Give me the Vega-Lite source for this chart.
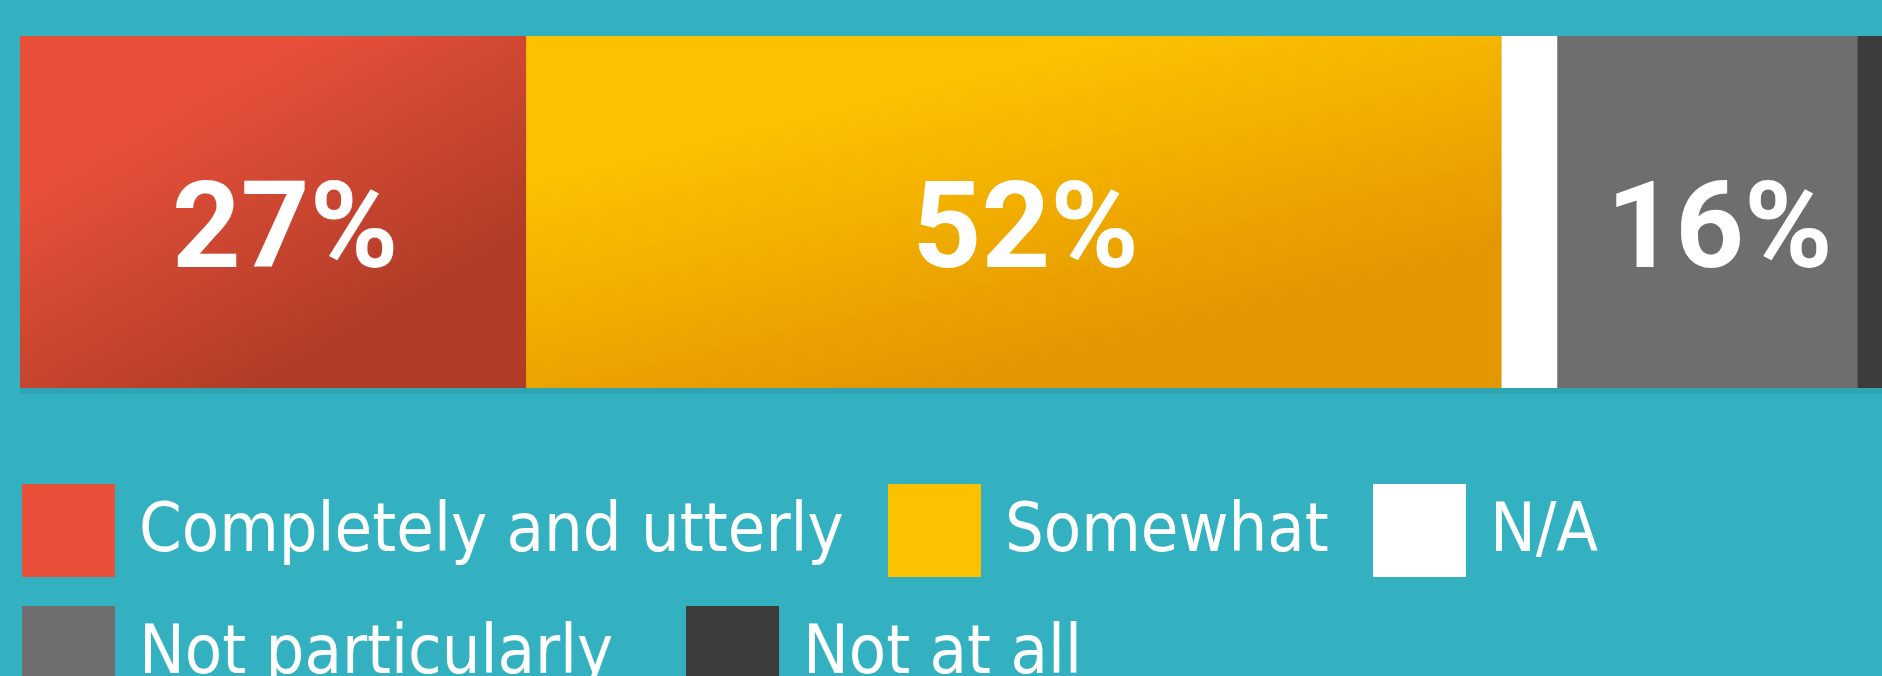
{
  "$schema": "https://vega.github.io/schema/vega-lite/v6.json",
  "width": 1882,
  "height": 676,
  "padding": 0,
  "autosize": {"type": "none"},
  "background": "#34B1C1",
  "config": {
    "view": {"stroke": null},
    "legend": {
      "title": null,
      "orient": "none",
      "direction": "horizontal",
      "symbolType": "square",
      "symbolSize": 8649,
      "symbolStrokeWidth": 0,
      "symbolOpacity": 1,
      "labelFont": "DejaVu Sans Condensed, Liberation Sans",
      "labelFontSize": 68,
      "labelColor": "#FFFFFF",
      "labelLimit": 0,
      "labelOffset": 24,
      "labelBaseline": "middle"
    }
  },
  "data": {
    "values": [
      {"question": "Q", "answer": "Completely and utterly", "pct": 27, "label": "27%", "rank": 1},
      {"question": "Q", "answer": "Somewhat", "pct": 52, "label": "52%", "rank": 2},
      {"question": "Q", "answer": "N/A", "pct": 3, "label": "", "rank": 3},
      {"question": "Q", "answer": "Not particularly", "pct": 16, "label": "16%", "rank": 4},
      {"question": "Q", "answer": "Not at all", "pct": 2, "label": "", "rank": 5}
    ]
  },
  "transform": [
    {"stack": "pct", "groupby": ["question"], "sort": [{"field": "rank", "order": "ascending"}], "as": ["x0", "x1"]}
  ],
  "encoding": {
    "y": {"field": "question", "type": "nominal", "axis": null,
          "scale": {"range": [36, 388], "paddingInner": 0, "paddingOuter": 0}}
  },
  "layer": [
    {
      "mark": {"type": "bar", "clip": true, "strokeWidth": 0, "fill": "#1F7F8C", "opacity": 0.25, "yOffset": 6},
      "encoding": {
        "x": {"field": "x0", "type": "quantitative", "axis": null,
              "scale": {"domain": [0, 99.3], "range": [20, 1882], "nice": false, "zero": false}},
        "x2": {"field": "x1"}
      }
    },
    {
      "mark": {"type": "bar", "clip": true, "strokeWidth": 0},
      "encoding": {
        "x": {"field": "x0", "type": "quantitative"},
        "x2": {"field": "x1"},
        "color": {
          "field": "answer", "type": "nominal",
          "scale": {
            "domain": ["Completely and utterly", "Somewhat", "N/A", "Not particularly", "Not at all"],
            "range": ["#E8503A", "#FCC200", "#FFFFFF", "#6E6E6E", "#3C3C3C"]
          },
          "legend": {
            "values": ["Completely and utterly", "Somewhat", "N/A"],
            "legendX": 22,
            "legendY": 484,
            "columns": 3,
            "columnPadding": 44
          }
        }
      }
    },
    {
      "transform": [{"filter": "datum.rank >= 4"}],
      "mark": {"type": "bar", "clip": true, "strokeWidth": 0},
      "encoding": {
        "x": {"field": "x0", "type": "quantitative"},
        "x2": {"field": "x1"},
        "fill": {
          "field": "answer", "type": "nominal",
          "scale": {
            "domain": ["Not particularly", "Not at all"],
            "range": ["#6E6E6E", "#3C3C3C"]
          },
          "legend": {
            "legendX": 22,
            "legendY": 606,
            "columns": 2,
            "columnPadding": 72
          }
        }
      }
    },
    {
      "transform": [{"filter": "datum.rank == 1"}],
      "mark": {"type": "bar", "clip": true, "strokeWidth": 0,
        "fill": {"gradient": "linear", "x1": 0.3, "y1": 0.2, "x2": 0.75, "y2": 0.75,
                 "stops": [{"offset": 0, "color": "#E8503A"}, {"offset": 1, "color": "#B13D28"}]}},
      "encoding": {"x": {"field": "x0", "type": "quantitative"}, "x2": {"field": "x1"}}
    },
    {
      "transform": [{"filter": "datum.rank == 2"}],
      "mark": {"type": "bar", "clip": true, "strokeWidth": 0,
        "fill": {"gradient": "linear", "x1": 0.3, "y1": 0.2, "x2": 0.7, "y2": 0.8,
                 "stops": [{"offset": 0, "color": "#FCC200"}, {"offset": 1, "color": "#E49600"}]}},
      "encoding": {"x": {"field": "x0", "type": "quantitative"}, "x2": {"field": "x1"}}
    },
    {
      "mark": {"type": "text", "font": "Roboto", "fontWeight": "bold",
               "fontSize": 120, "color": "#FFFFFF", "baseline": "middle", "align": "center", "dy": 19, "dx": 12},
      "encoding": {
        "x": {"field": "pct", "type": "quantitative", "stack": "zero", "bandPosition": 0.5},
        "order": {"field": "rank", "type": "ordinal"},
        "text": {"field": "label", "type": "nominal"}
      }
    }
  ]
}
